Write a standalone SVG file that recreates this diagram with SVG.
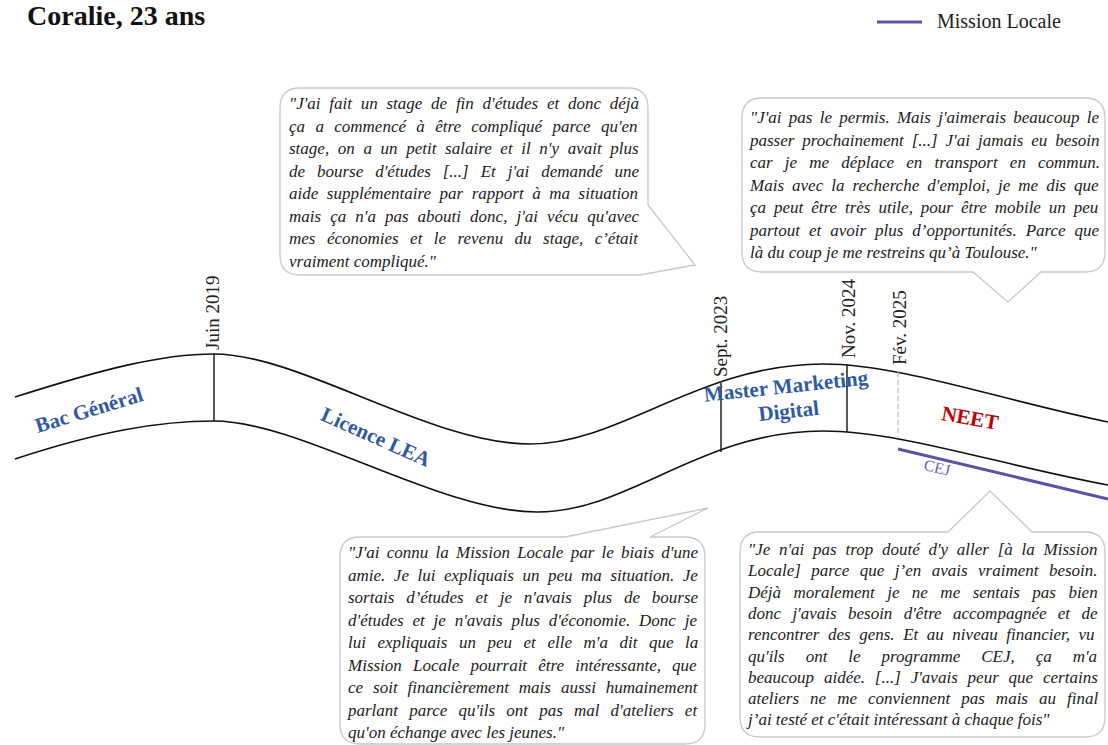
<svg xmlns="http://www.w3.org/2000/svg" width="1108" height="745" viewBox="0 0 1108 745">
<style>
.title{font-family:"Liberation Serif",serif;font-weight:bold;font-size:28px;fill:#111}
.leg{font-family:"Liberation Serif",serif;font-size:20px;fill:#222}
.road{fill:none;stroke:#111;stroke-width:1.6}
.tick{stroke:#111;stroke-width:1.4}
.dash{stroke:#bdbdbd;stroke-width:1.2;stroke-dasharray:5 3}
.date{font-family:"Liberation Serif",serif;font-size:19px;fill:#222}
.stage{font-family:"Liberation Serif",serif;font-weight:bold;font-size:21px;fill:#2F5BA5;text-anchor:middle}
.neet{font-family:"Liberation Serif",serif;font-weight:bold;font-size:21px;fill:#C00000;text-anchor:middle}
.ml{stroke:#5E52A6;stroke-width:3;fill:none}
.cej{font-family:"Liberation Serif",serif;font-size:16px;fill:#6A68A8;text-anchor:middle}
.bub{fill:#fff;stroke:#c9c9c9;stroke-width:1.3}
.q{font-family:"Liberation Serif",serif;font-style:italic;font-size:17px;fill:#222}
</style>

<g id="title"><text class="title" x="27" y="25">Coralie, 23 ans</text></g>

<g id="legend">
<line class="ml" x1="877" y1="22" x2="922" y2="22"/>
<text class="leg" x="937" y="28">Mission Locale</text>
</g>

<g id="connectors">
<path class="road" d="M15,397 C100,370 160,354 214,354 C300,354 430,444 530,444 C620,444 700,364 823,364 C900,364 1000,400 1108,422"/>
<path class="road" d="M15,459 C100,431 160,421 214,421 C300,421 440,512 537,512 C630,512 700,431 823,431 C900,431 1000,465 1108,485"/>
<line class="tick" x1="214" y1="354" x2="214" y2="421"/>
<line class="tick" x1="721" y1="383" x2="721" y2="452"/>
<line class="tick" x1="847" y1="365" x2="847" y2="432"/>
<line class="dash" x1="898" y1="372" x2="898" y2="437"/>
<line class="ml" x1="898" y1="449" x2="1108" y2="499"/>
</g>

<g id="dates">
<text class="date" transform="translate(219,350) rotate(-90)">Juin 2019</text>
<text class="date" transform="translate(727,377) rotate(-90)">Sept. 2023</text>
<text class="date" transform="translate(855,358) rotate(-90)">Nov. 2024</text>
<text class="date" transform="translate(906,365) rotate(-90)">Fév. 2025</text>
</g>

<g id="stage-bac"><text class="stage" transform="translate(89,410) rotate(-17)" y="7">Bac Général</text></g>
<g id="stage-licence"><text class="stage" transform="translate(376,437) rotate(24)" y="7">Licence LEA</text></g>
<g id="stage-master"><g transform="translate(788,405) rotate(-6)">
<text class="stage" y="-12">Master Marketing</text>
<text class="stage" y="13">Digital</text></g></g>
<g id="stage-neet"><text class="neet" transform="translate(970,418) rotate(10)" y="7">NEET</text></g>
<g id="cej"><text class="cej" transform="translate(937,468) rotate(13)" y="5">CEJ</text></g>

<g id="quote-stage">
<path class="bub" d="M300,88 H628 Q648,88 648,108 V205 L695,265 L640,275 H300 Q280,275 280,255 V108 Q280,88 300,88 Z"/>
<text class="q" x="289" y="109" word-spacing="4.5">"J'ai fait un stage de fin d'études et donc déjà</text>
<text class="q" x="289" y="131.5" word-spacing="6.1">ça a commencé à être compliqué parce qu'en</text>
<text class="q" x="289" y="154" word-spacing="4.4">stage, on a un petit salaire et il n'y avait plus</text>
<text class="q" x="289" y="176.5" word-spacing="7.7">de bourse d'études [...] Et j'ai demandé une</text>
<text class="q" x="289" y="199" word-spacing="4.3">aide supplémentaire par rapport à ma situation</text>
<text class="q" x="289" y="221.5" word-spacing="4.8">mais ça n'a pas abouti donc, j'ai vécu qu'avec</text>
<text class="q" x="289" y="244" word-spacing="7.2">mes économies et le revenu du stage, c’était</text>
<text class="q" x="289" y="266.5">vraiment compliqué."</text>
</g>

<g id="quote-permis">
<path class="bub" d="M762,98 H1085 Q1105,98 1105,118 V252 Q1105,272 1085,272 H1041 L1008,302 L973,272 H762 Q742,272 742,252 V118 Q742,98 762,98 Z"/>
<text class="q" x="750" y="123" word-spacing="3">"J'ai pas le permis. Mais j'aimerais beaucoup le</text>
<text class="q" x="750" y="145.5" word-spacing="3.7">passer prochainement [...] J'ai jamais eu besoin</text>
<text class="q" x="750" y="168" word-spacing="7.9">car je me déplace en transport en commun.</text>
<text class="q" x="750" y="190.5" word-spacing="3.8">Mais avec la recherche d'emploi, je me dis que</text>
<text class="q" x="750" y="213" word-spacing="3.7">ça peut être très utile, pour être mobile un peu</text>
<text class="q" x="750" y="235.5" word-spacing="4.7">partout et avoir plus d’opportunités. Parce que</text>
<text class="q" x="750" y="258">là du coup je me restreins qu’à Toulouse."</text>
</g>

<g id="quote-connu">
<path class="bub" d="M360,537 H565 L708,508 L650,537 H685 Q705,537 705,557 V724 Q705,744 685,744 H360 Q340,744 340,724 V557 Q340,537 360,537 Z"/>
<text class="q" x="348" y="558" word-spacing="3">"J'ai connu la Mission Locale par le biais d'une</text>
<text class="q" x="348" y="580.5" word-spacing="4.3">amie. Je lui expliquais un peu ma situation. Je</text>
<text class="q" x="348" y="603" word-spacing="7.6">sortais d’études et je n'avais plus de bourse</text>
<text class="q" x="348" y="625.5" word-spacing="4.6">d'études et je n'avais plus d'économie. Donc je</text>
<text class="q" x="348" y="648" word-spacing="7.3">lui expliquais un peu et elle m'a dit que la</text>
<text class="q" x="348" y="670.5" word-spacing="6.9">Mission Locale pourrait être intéressante, que</text>
<text class="q" x="348" y="693" word-spacing="5.7">ce soit financièrement mais aussi humainement</text>
<text class="q" x="348" y="715.5" word-spacing="6.9">parlant parce qu'ils ont pas mal d'ateliers et</text>
<text class="q" x="348" y="738">qu'on échange avec les jeunes."</text>
</g>

<g id="quote-cej">
<path class="bub" d="M760,532 H948 L990,491 L1032,532 H1085 Q1105,532 1105,552 V717 Q1105,737 1085,737 H760 Q740,737 740,717 V552 Q740,532 760,532 Z"/>
<text class="q" x="748" y="555" word-spacing="4.5">"Je n'ai pas trop douté d'y aller [à la Mission</text>
<text class="q" x="748" y="576.3" word-spacing="6.2">Locale] parce que j’en avais vraiment besoin.</text>
<text class="q" x="748" y="597.6" word-spacing="8.2">Déjà moralement je ne me sentais pas bien</text>
<text class="q" x="748" y="618.9" word-spacing="7.1">donc j'avais besoin d'être accompagnée et de</text>
<text class="q" x="748" y="640.2" word-spacing="4.3">rencontrer des gens. Et au niveau financier, vu</text>
<text class="q" x="748" y="661.5" word-spacing="16.7">qu'ils ont le programme CEJ, ça m'a</text>
<text class="q" x="748" y="682.8" word-spacing="5.6">beaucoup aidée. [...] J'avais peur que certains</text>
<text class="q" x="748" y="704.1" word-spacing="6.8">ateliers ne me conviennent pas mais au final</text>
<text class="q" x="748" y="725.4">j’ai testé et c'était intéressant à chaque fois"</text>
</g>
</svg>
